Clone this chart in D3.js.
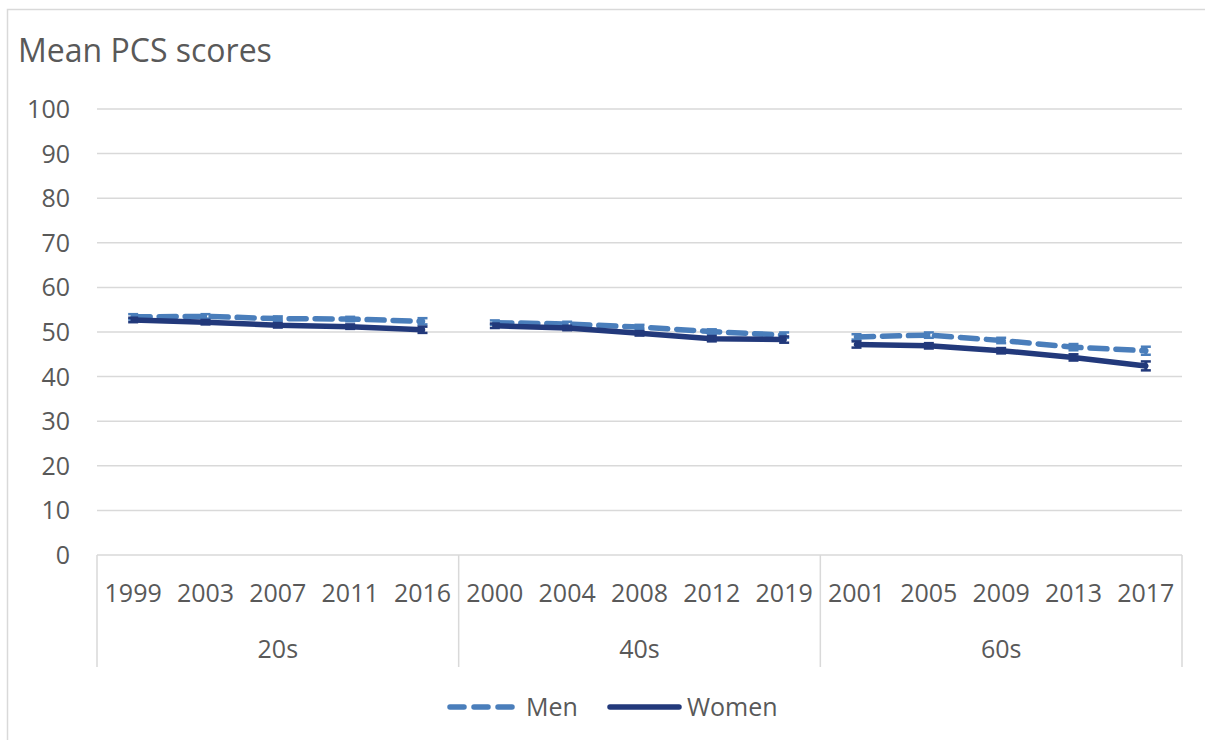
<!DOCTYPE html>
<html>
<head>
<meta charset="utf-8">
<script src="https://cdn.jsdelivr.net/npm/d3@7"></script>
<style>
  html, body { margin: 0; padding: 0; background: #ffffff; }
  svg { display: block; }
  text { font-family: "Open Sans", "Noto Sans", sans-serif; fill: #595959; }
</style>
</head>
<body>
<svg id="chart" width="1205" height="740"></svg>
<script>
// Age groups and survey years
const groups = ["20s", "40s", "60s"];
const years20s = ["1999", "2003", "2007", "2011", "2016"];
const years40s = ["2000", "2004", "2008", "2012", "2019"];
const years60s = ["2001", "2005", "2009", "2013", "2017"];

// Mean PCS scores
const menValues   = [53.4, 53.5, 53.0, 52.9, 52.4,  52.1, 51.8, 51.1, 50.1, 49.3,  48.9, 49.3, 48.1, 46.6, 45.8];
const womenValues = [52.7, 52.2, 51.5, 51.2, 50.5,  51.4, 50.9, 49.7, 48.5, 48.3,  47.2, 46.9, 45.8, 44.3, 42.4];
// Error margins (±)
const menErr   = [0.6, 0.5, 0.5, 0.5, 0.7,  0.5, 0.5, 0.5, 0.5, 0.6,  0.6, 0.6, 0.6, 0.7, 0.9];
const womenErr = [0.5, 0.5, 0.5, 0.5, 0.7,  0.5, 0.5, 0.5, 0.6, 0.7,  0.7, 0.6, 0.6, 0.7, 1.0];

const yTicks = [0, 10, 20, 30, 40, 50, 60, 70, 80, 90, 100];

const groupYears = [years20s, years40s, years60s];
const cats = [];
groupYears.forEach((ys, gi) => ys.forEach(yr => cats.push({ group: groups[gi], year: yr, key: groups[gi] + "|" + yr })));

const series = [
  { name: "Men",   values: menValues,   err: menErr,   color: "#4a7ebb", dash: "17,9" },
  { name: "Women", values: womenValues, err: womenErr, color: "#22397b", dash: null }
];

const svg = d3.select("#chart");
const plotLeft = 97, plotRight = 1182, plotTop = 109, plotBottom = 555;

// Outer chart frame
svg.append("rect")
  .attr("x", 7.5).attr("y", 9.5).attr("width", 1205).attr("height", 760)
  .attr("fill", "none").attr("stroke", "#d9d9d9").attr("stroke-width", 1.5);

// Title
svg.append("text").attr("x", 18).attr("y", 62)
  .style("font-size", "32px").text("Mean PCS scores");

const x = d3.scaleBand().domain(cats.map(c => c.key)).range([plotLeft, plotRight]).padding(0);
const xGroup = d3.scaleBand().domain(groups).range([plotLeft, plotRight]).padding(0);
const y = d3.scaleLinear().domain([0, 100]).range([plotBottom, plotTop]);

// Horizontal gridlines
svg.append("g").selectAll("line").data(yTicks).join("line")
  .attr("x1", plotLeft).attr("x2", plotRight)
  .attr("y1", d => y(d)).attr("y2", d => y(d))
  .attr("stroke", "#d9d9d9").attr("stroke-width", 1.5);

// Y axis labels
const yAxis = d3.axisLeft(y).tickValues(yTicks).tickSize(0).tickPadding(0);
const yg = svg.append("g").attr("transform", `translate(${plotLeft - 27},0)`).call(yAxis);
yg.select(".domain").remove();
yg.selectAll("text").attr("fill", "#595959").attr("dy", "0.34em")
  .style("font-size", "25px").style("font-family", "'Open Sans', sans-serif");

// Category axis: years and group boundaries
const xg = svg.append("g");
xg.selectAll("text.year").data(cats).join("text")
  .attr("class", "year")
  .attr("x", d => x(d.key) + x.bandwidth() / 2).attr("y", 602)
  .attr("text-anchor", "middle").style("font-size", "25px")
  .text(d => d.year);
xg.selectAll("text.group").data(groups).join("text")
  .attr("class", "group")
  .attr("x", d => xGroup(d) + xGroup.bandwidth() / 2).attr("y", 658)
  .attr("text-anchor", "middle").style("font-size", "25px")
  .text(d => d);
const bounds = groups.map(g => xGroup(g)).concat([xGroup(groups[groups.length - 1]) + xGroup.bandwidth()]);
xg.selectAll("line.sep").data(bounds).join("line")
  .attr("class", "sep")
  .attr("x1", d => d).attr("x2", d => d)
  .attr("y1", plotBottom).attr("y2", 667)
  .attr("stroke", "#d9d9d9").attr("stroke-width", 1.5);

// Lines per group, with error bars
const line = d3.line().x(d => x(d.key) + x.bandwidth() / 2).y(d => y(d.v));
series.forEach(s => {
  const pts = cats.map((c, i) => ({ key: c.key, group: c.group, v: s.values[i], e: s.err[i] }));
  const g = svg.append("g");
  groups.forEach(gr => {
    const gp = pts.filter(p => p.group === gr);
    g.append("path").datum(gp)
      .attr("d", line)
      .attr("fill", "none").attr("stroke", s.color).attr("stroke-width", 5.5)
      .attr("stroke-linecap", "round").attr("stroke-linejoin", "round")
      .attr("stroke-dasharray", s.dash);
  });
  const eb = g.selectAll("g.eb").data(pts).join("g").attr("class", "eb")
    .attr("transform", d => `translate(${x(d.key) + x.bandwidth() / 2},0)`);
  eb.append("line").attr("x1", 0).attr("x2", 0)
    .attr("y1", d => y(d.v - d.e)).attr("y2", d => y(d.v + d.e))
    .attr("stroke", s.color).attr("stroke-width", 3);
  [-1, 1].forEach(sign => {
    eb.append("line").attr("x1", -5).attr("x2", 5)
      .attr("y1", d => y(d.v + sign * d.e)).attr("y2", d => y(d.v + sign * d.e))
      .attr("stroke", s.color).attr("stroke-width", 2.5);
  });
});

// Legend
const legend = svg.append("g");
legend.append("line").attr("x1", 450).attr("x2", 512).attr("y1", 707).attr("y2", 707)
  .attr("stroke", series[0].color).attr("stroke-width", 5.5)
  .attr("stroke-linecap", "round").attr("stroke-dasharray", "14,10");
legend.append("text").attr("x", 526).attr("y", 716).style("font-size", "25px").text(series[0].name);
legend.append("line").attr("x1", 610).attr("x2", 679).attr("y1", 707).attr("y2", 707)
  .attr("stroke", series[1].color).attr("stroke-width", 5.5).attr("stroke-linecap", "round");
legend.append("text").attr("x", 687).attr("y", 716).style("font-size", "25px").text(series[1].name);
</script>
</body>
</html>
